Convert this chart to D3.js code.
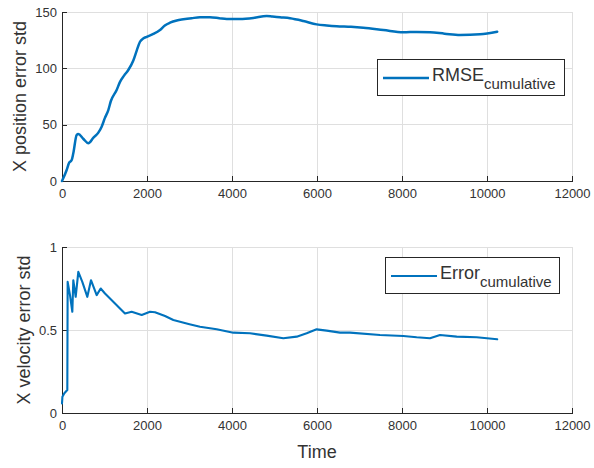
<!DOCTYPE html>
<html>
<head>
<meta charset="utf-8">
<script src="https://cdn.jsdelivr.net/npm/d3@7"></script>
<style>
  html, body { margin: 0; padding: 0; background: #fff; }
  svg { display: block; font-family: "Liberation Sans", Arial, sans-serif; }
</style>
</head>
<body>
<svg id="chart" width="594" height="468"></svg>
<script>
// Cumulative position error (top panel)
const posTime = [0, 110, 165, 228, 266, 345, 384, 500, 620, 740, 855, 933, 1010, 1090, 1150, 1286, 1365, 1460, 1560, 1678, 1760, 1835, 1910, 1993, 2149, 2306, 2420, 2541, 2700, 2855, 3050, 3247, 3482, 3700, 3875, 4188, 4502, 4816, 4950, 5129, 5365, 5678, 5992, 6230, 6463, 6800, 7090, 7561, 8031, 8350, 8659, 9000, 9365, 9835, 10240];
const posStd  = [0, 9.8, 16, 18.6, 24.6, 40.8, 41.7, 37.5, 33.5, 38.5, 42.9, 48.2, 56, 63, 71, 80.8, 88, 93.5, 98.5, 107, 116, 123.6, 126.5, 128, 130.5, 134, 138, 140.5, 142.5, 143.5, 144.5, 145.3, 145.3, 144.5, 143.8, 143.8, 144.7, 146.5, 146, 145.3, 144.4, 142, 139, 138, 137.3, 136.8, 136, 134, 132, 132.3, 132, 130.8, 129.6, 130.2, 132.5];

// Cumulative velocity error (bottom panel)
const velTime = [0, 10, 55, 125, 133, 188, 243, 266, 322, 384, 478, 596, 682, 816, 910, 1012, 1247, 1482, 1639, 1875, 2071, 2188, 2424, 2620, 3000, 3247, 3640, 4031, 4424, 4816, 5208, 5522, 5757, 5992, 6228, 6541, 6776, 7482, 8031, 8345, 8659, 8894, 9287, 9757, 10240];
const velStd  = [0.058, 0.098, 0.119, 0.139, 0.79, 0.71, 0.61, 0.80, 0.70, 0.85, 0.79, 0.70, 0.80, 0.71, 0.75, 0.72, 0.66, 0.60, 0.61, 0.59, 0.61, 0.607, 0.584, 0.56, 0.535, 0.52, 0.504, 0.484, 0.48, 0.466, 0.45, 0.46, 0.48, 0.504, 0.496, 0.484, 0.484, 0.47, 0.464, 0.456, 0.45, 0.47, 0.46, 0.456, 0.444];

const xTicks = [0, 2000, 4000, 6000, 8000, 10000, 12000];
const posTicks = [0, 50, 100, 150];
const velTicks = [0, 0.5, 1];

const svg = d3.select("#chart");
const lineColor = "#0072BD";
const axisColor = "#262626";
const textColor = "#333333";
const gridColor = "#dfdfdf";

function panel(opts) {
  const { top, bottom, left, right, yMax, yTicks, yFmt, xs, ys, yLabel, labelX,
          legend, xLabel, curve, lw } = opts;
  const x = d3.scaleLinear().domain([0, 12000]).range([left, right]);
  const y = d3.scaleLinear().domain([0, yMax]).range([bottom, top]);
  const g = svg.append("g");

  // grid
  g.append("g").selectAll("line").data(xTicks).join("line")
    .attr("x1", d => x(d)).attr("x2", d => x(d))
    .attr("y1", top).attr("y2", bottom)
    .attr("stroke", gridColor).attr("stroke-width", 1).attr("shape-rendering", "crispEdges");
  g.append("g").selectAll("line").data(yTicks).join("line")
    .attr("x1", left).attr("x2", right)
    .attr("y1", d => y(d)).attr("y2", d => y(d))
    .attr("stroke", gridColor).attr("stroke-width", 1).attr("shape-rendering", "crispEdges");

  // axes (ticks point inward)
  const xAxis = d3.axisBottom(x).tickValues(xTicks).tickSizeInner(-5).tickSizeOuter(0)
    .tickPadding(8).tickFormat(d3.format("d"));
  const gx = g.append("g").attr("transform", `translate(0,${bottom})`).call(xAxis);
  const yAxis = d3.axisLeft(y).tickValues(yTicks).tickSizeInner(-5).tickSizeOuter(0)
    .tickPadding(8).tickFormat(yFmt);
  const gy = g.append("g").attr("transform", `translate(${left},0)`).call(yAxis);
  [gx, gy].forEach(a => {
    a.select(".domain").attr("stroke", axisColor).attr("shape-rendering", "crispEdges");
    a.selectAll(".tick line").attr("stroke", axisColor).attr("shape-rendering", "crispEdges");
    a.selectAll(".tick text").attr("fill", textColor).attr("font-size", 13)
      .attr("font-family", "Liberation Sans, Arial, sans-serif");
  });
  gy.selectAll(".tick text").attr("dx", "3");

  // data line
  const pts = xs.map((t, i) => [t, ys[i]]);
  g.append("path").datum(pts)
    .attr("fill", "none").attr("stroke", lineColor).attr("stroke-width", lw)
    .attr("stroke-linejoin", "round").attr("stroke-linecap", "round")
    .attr("d", d3.line().curve(curve).x(d => x(d[0])).y(d => y(d[1])));

  // y label
  g.append("text")
    .attr("transform", `translate(${labelX},${(top + bottom) / 2}) rotate(-90)`)
    .attr("text-anchor", "middle").attr("font-size", 18).attr("fill", textColor)
    .text(yLabel);

  if (xLabel) {
    g.append("text").attr("x", (left + right) / 2).attr("y", bottom + 45)
      .attr("text-anchor", "middle").attr("font-size", 18).attr("fill", textColor)
      .text(xLabel);
  }

  // legend
  const lg = g.append("g");
  lg.append("rect").attr("x", legend.x).attr("y", legend.y)
    .attr("width", legend.w).attr("height", 36)
    .attr("fill", "#fff").attr("stroke", axisColor).attr("stroke-width", 1)
    .attr("shape-rendering", "crispEdges");
  lg.append("line").attr("x1", legend.x + 6).attr("x2", legend.x + 52)
    .attr("y1", legend.y + 19).attr("y2", legend.y + 19)
    .attr("stroke", lineColor).attr("stroke-width", lw);
  const txt = lg.append("text").attr("x", legend.x + 55).attr("y", legend.y + 22)
    .attr("fill", textColor).attr("font-size", 18);
  txt.append("tspan").text(legend.main);
  txt.append("tspan").attr("font-size", 15).attr("dy", 8).text("cumulative");
}

panel({
  top: 12, bottom: 181, left: 62, right: 572, yMax: 150, yTicks: posTicks,
  yFmt: d3.format("d"), xs: posTime, ys: posStd,
  yLabel: "X position error std", labelX: 26,
  legend: { x: 377, y: 59, w: 187, main: "RMSE" },
  curve: d3.curveMonotoneX, lw: 2.5
});

panel({
  top: 247, bottom: 413, left: 62, right: 572, yMax: 1, yTicks: velTicks,
  yFmt: d => d === 0.5 ? "0.5" : d3.format("d")(d), xs: velTime, ys: velStd,
  yLabel: "X velocity error std", labelX: 30, xLabel: "Time",
  legend: { x: 385, y: 257, w: 174, main: "Error" },
  curve: d3.curveLinear, lw: 2.1
});
</script>
</body>
</html>
